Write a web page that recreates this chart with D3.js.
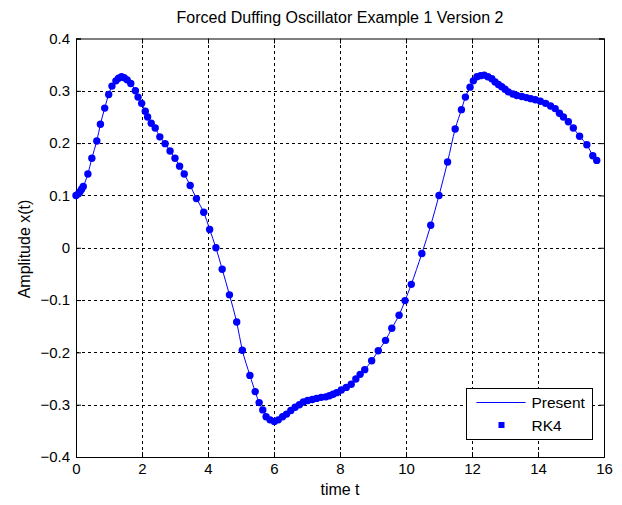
<!DOCTYPE html>
<html>
<head>
<meta charset="utf-8">
<script src="https://cdn.jsdelivr.net/npm/d3@7"></script>
<style>
  body { margin: 0; background: #fff; }
  text { font-family: "Liberation Sans", Arial, sans-serif; }
</style>
</head>
<body>
<div id="chart"></div>
<script>
// time values of the RK4 samples (adaptive spacing)
const timeValues = [
  0, 0.07, 0.12, 0.17, 0.22, 0.36, 0.48, 0.63, 0.74, 0.87, 0.99, 1.09, 1.21, 1.29, 1.38,
  1.46, 1.55, 1.66, 1.80, 1.88, 1.99, 2.10, 2.17, 2.28, 2.40, 2.54, 2.70, 2.85, 3.00,
  3.14, 3.28, 3.46, 3.65, 3.87, 4.05, 4.24, 4.43, 4.65, 4.87, 5.04, 5.27, 5.43, 5.55,
  5.66, 5.76, 5.88, 6.01, 6.13, 6.26, 6.38, 6.51, 6.64, 6.77, 6.89, 7.02, 7.16, 7.29,
  7.43, 7.57, 7.68, 7.79, 7.90, 8.04, 8.19, 8.34, 8.48, 8.61, 8.75, 8.96, 9.16, 9.38,
  9.57, 9.79, 9.97, 10.16, 10.48, 10.75, 11.00, 11.26, 11.49, 11.68, 11.80, 11.94,
  12.04, 12.15, 12.26, 12.37, 12.48, 12.60, 12.70, 12.80, 12.90, 13.00, 13.10, 13.24,
  13.36, 13.51, 13.65, 13.78, 13.92, 14.07, 14.23, 14.38, 14.52, 14.65, 14.77, 14.92,
  15.07, 15.26, 15.48, 15.66, 15.78
];
// amplitude x(t) at those times
const amplitudeValues = [
  0.100, 0.103, 0.107, 0.112, 0.117, 0.141, 0.171, 0.204, 0.236, 0.267, 0.293, 0.309,
  0.319, 0.324, 0.327, 0.325, 0.321, 0.314, 0.300, 0.288, 0.276, 0.261, 0.250, 0.238,
  0.229, 0.212, 0.199, 0.185, 0.171, 0.156, 0.141, 0.119, 0.094, 0.068, 0.035, 0.000,
  -0.041, -0.090, -0.142, -0.196, -0.244, -0.275, -0.296, -0.310, -0.323, -0.329,
  -0.332, -0.329, -0.323, -0.318, -0.311, -0.305, -0.300, -0.295, -0.292, -0.290,
  -0.288, -0.286, -0.285, -0.283, -0.280, -0.277, -0.272, -0.267, -0.261, -0.251,
  -0.242, -0.233, -0.216, -0.197, -0.177, -0.154, -0.129, -0.101, -0.070, -0.011,
  0.043, 0.100, 0.164, 0.227, 0.264, 0.288, 0.307, 0.319, 0.327, 0.329, 0.330, 0.327,
  0.323, 0.317, 0.312, 0.308, 0.303, 0.298, 0.294, 0.291, 0.289, 0.287, 0.285, 0.283,
  0.280, 0.276, 0.271, 0.266, 0.257, 0.250, 0.241, 0.229, 0.213, 0.197, 0.176, 0.167
];
const xTicks = [0, 2, 4, 6, 8, 10, 12, 14, 16];
const yTicks = [-0.4, -0.3, -0.2, -0.1, 0, 0.1, 0.2, 0.3, 0.4];
const seriesNames = ["Present", "RK4"];

const data = timeValues.map((t, i) => ({ t: t, v: amplitudeValues[i] }));

const width = 622;
const height = 505;
const marginTop = 38.5;
const marginRight = 18;
const marginBottom = 48;
const marginLeft = 76;

const x = d3.scaleLinear().domain([0, 16]).range([marginLeft, width - marginRight]);
const y = d3.scaleLinear().domain([-0.4, 0.4]).range([height - marginBottom, marginTop]);

const svg = d3.select("#chart")
  .append("svg")
  .attr("width", width)
  .attr("height", height)
  .attr("viewBox", [0, 0, width, height]);

svg.append("rect").attr("width", width).attr("height", height).attr("fill", "#fff");

// grid (dashed)
const grid = svg.append("g")
  .attr("stroke", "#000")
  .attr("stroke-width", 1)
  .attr("stroke-dasharray", "3,3")
  .attr("shape-rendering", "crispEdges");
grid.selectAll(".gx")
  .data(xTicks.slice(1, -1))
  .join("line")
  .attr("x1", (d) => Math.round(x(d)) + 0.5).attr("x2", (d) => Math.round(x(d)) + 0.5)
  .attr("y1", y(0.4)).attr("y2", y(-0.4));
grid.selectAll(".gy")
  .data(yTicks.slice(1, -1))
  .join("line")
  .attr("y1", (d) => Math.round(y(d)) + 0.5).attr("y2", (d) => Math.round(y(d)) + 0.5)
  .attr("x1", x(0)).attr("x2", x(16));

// axes with inward ticks on all sides
const fmt = (d) => (d === 0 ? "0" : d3.format(".1f")(d));
svg.append("g")
  .attr("transform", `translate(0,${height - marginBottom})`)
  .call(d3.axisBottom(x).tickValues(xTicks).tickSize(-5).tickPadding(6).tickFormat(d3.format("d")));
svg.append("g")
  .attr("transform", `translate(0,${marginTop})`)
  .call(d3.axisTop(x).tickValues(xTicks).tickSize(-5).tickFormat(""));
svg.append("g")
  .attr("transform", `translate(${marginLeft},0)`)
  .call(d3.axisLeft(y).tickValues(yTicks).tickSize(-5).tickPadding(6).tickFormat(fmt));
svg.append("g")
  .attr("transform", `translate(${width - marginRight},0)`)
  .call(d3.axisRight(y).tickValues(yTicks).tickSize(-5).tickFormat(""));

svg.selectAll(".tick text").attr("font-size", 15).attr("fill", "#000")
  .attr("font-family", "Liberation Sans, Arial, sans-serif");
svg.selectAll(".domain").attr("stroke", "#000");

// Present line
const line = d3.line().x((d) => x(d.t)).y((d) => y(d.v)).curve(d3.curveCatmullRom);
svg.append("path")
  .datum(data)
  .attr("fill", "none")
  .attr("stroke", "#0000ff")
  .attr("stroke-width", 1)
  .attr("d", line);

// RK4 markers
svg.append("g")
  .attr("fill", "#0000ff")
  .selectAll("circle")
  .data(data)
  .join("circle")
  .attr("cx", (d) => x(d.t))
  .attr("cy", (d) => y(d.v))
  .attr("r", 3.7);

// title and labels
svg.append("text")
  .attr("x", (x(0) + x(16)) / 2).attr("y", 23)
  .attr("text-anchor", "middle").attr("font-size", 16)
  .text("Forced Duffing Oscillator Example 1 Version 2");
svg.append("text")
  .attr("x", (x(0) + x(16)) / 2).attr("y", 495)
  .attr("text-anchor", "middle").attr("font-size", 16)
  .text("time t");
svg.append("text")
  .attr("transform", `translate(30,249) rotate(-90)`)
  .attr("text-anchor", "middle").attr("font-size", 16)
  .text("Amplitude x(t)");

// legend
const legend = svg.append("g").attr("transform", "translate(466.5,388.5)");
legend.append("rect").attr("width", 126).attr("height", 51)
  .attr("fill", "#fff").attr("stroke", "#000").attr("stroke-width", 1);
legend.append("line").attr("x1", 10).attr("x2", 59).attr("y1", 14).attr("y2", 14)
  .attr("stroke", "#0000ff").attr("stroke-width", 1);
legend.append("rect").attr("x", 32).attr("y", 33.5).attr("width", 6).attr("height", 6)
  .attr("fill", "#0000ff");
legend.selectAll(".lt")
  .data(seriesNames)
  .join("text")
  .attr("x", 65)
  .attr("y", (d, i) => 19.5 + i * 22.5)
  .attr("font-size", 15.5)
  .text((d) => d);
</script>
</body>
</html>
